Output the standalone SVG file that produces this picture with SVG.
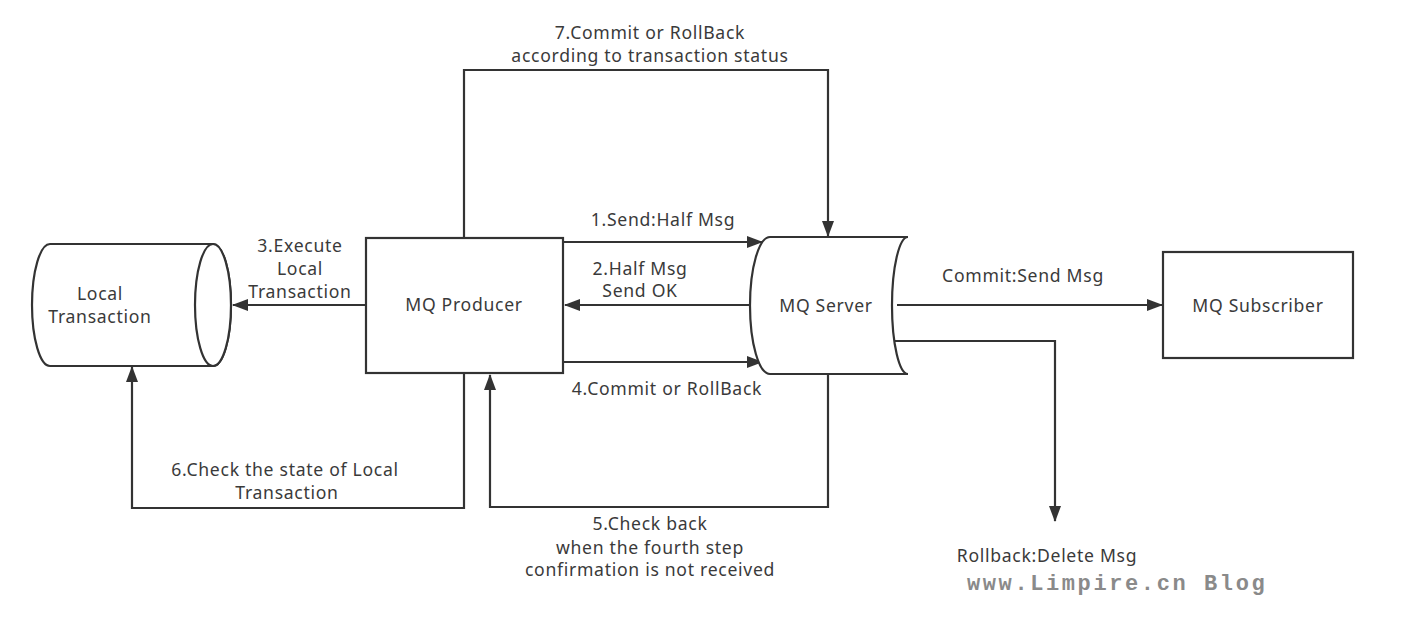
<svg xmlns="http://www.w3.org/2000/svg" width="1407" height="618" viewBox="0 0 1407 618">
<style>
.t{font-family:"Noto Sans","Open Sans","Liberation Sans",sans-serif;font-size:17.6px;fill:#3a3a3a;text-anchor:middle;letter-spacing:0.7px}
.s{fill:#fff;stroke:#333;stroke-width:2.2}
.c path{fill:none;stroke:#333;stroke-width:2.2}
.wm{font-family:"Liberation Mono","DejaVu Sans Mono",monospace;font-size:22px;font-weight:bold;fill:#8a8a8a;letter-spacing:2.6px}
</style>
<defs>
<marker id="arr" markerWidth="16" markerHeight="12" refX="15" refY="6" orient="auto" markerUnits="userSpaceOnUse">
<path d="M0,0 L16,6 L0,12 z" fill="#333"/>
</marker>
</defs>
<rect width="1407" height="618" fill="#fff"/>
<g class="c" id="connectors">
<path d="M563,242 H762" marker-end="url(#arr)"/>
<path d="M750,305 H565" marker-end="url(#arr)"/>
<path d="M366,305 H233" marker-end="url(#arr)"/>
<path d="M563,362 H762" marker-end="url(#arr)"/>
<path d="M464,238 V70 H828 V236" marker-end="url(#arr)"/>
<path d="M464,373 V508 H132 V367" marker-end="url(#arr)"/>
<path d="M828,374 V507 H490 V375" marker-end="url(#arr)"/>
<path d="M897,305 H1162" marker-end="url(#arr)"/>
<path d="M893,341 H1055 V521" marker-end="url(#arr)"/>
</g>
<g id="local-transaction">
<path class="s" d="M50,244 L213,244 A18,61 0 0 1 213,366 L50,366 A18,61 0 0 1 50,244 Z"/>
<ellipse class="s" cx="213" cy="305" rx="18" ry="61"/>
<text class="t" x="100" y="300">Local</text>
<text class="t" x="100" y="323">Transaction</text>
</g>
<g id="mq-producer">
<rect class="s" x="366" y="238" width="197" height="135"/>
<text class="t" x="464" y="311">MQ Producer</text>
</g>
<g id="mq-server">
<path class="s" d="M908,237 L770,237 A20,68.5 0 0 0 770,374 L908,374 A16,68.5 0 0 1 908,237 Z"/>
<text class="t" x="826" y="312">MQ Server</text>
</g>
<g id="mq-subscriber">
<rect class="s" x="1163" y="252" width="190" height="106"/>
<text class="t" x="1258" y="312">MQ Subscriber</text>
</g>
<g id="labels">
<text class="t" x="650" y="39">7.Commit or RollBack</text>
<text class="t" x="650" y="62">according to transaction status</text>
<text class="t" x="663" y="226">1.Send:Half Msg</text>
<text class="t" x="640" y="275">2.Half Msg</text>
<text class="t" x="640" y="297">Send OK</text>
<text class="t" x="667" y="395">4.Commit or RollBack</text>
<text class="t" x="300" y="252">3.Execute</text>
<text class="t" x="300" y="275">Local</text>
<text class="t" x="300" y="298">Transaction</text>
<text class="t" x="1023" y="282">Commit:Send Msg</text>
<text class="t" x="285" y="476">6.Check the state of Local</text>
<text class="t" x="287" y="499">Transaction</text>
<text class="t" x="650" y="530">5.Check back</text>
<text class="t" x="650" y="554">when the fourth step</text>
<text class="t" x="650" y="576">confirmation is not received</text>
<text class="t" x="1047" y="562">Rollback:Delete Msg</text>
<text class="wm" x="967" y="590">www.Limpire.cn Blog</text>
</g>
</svg>
